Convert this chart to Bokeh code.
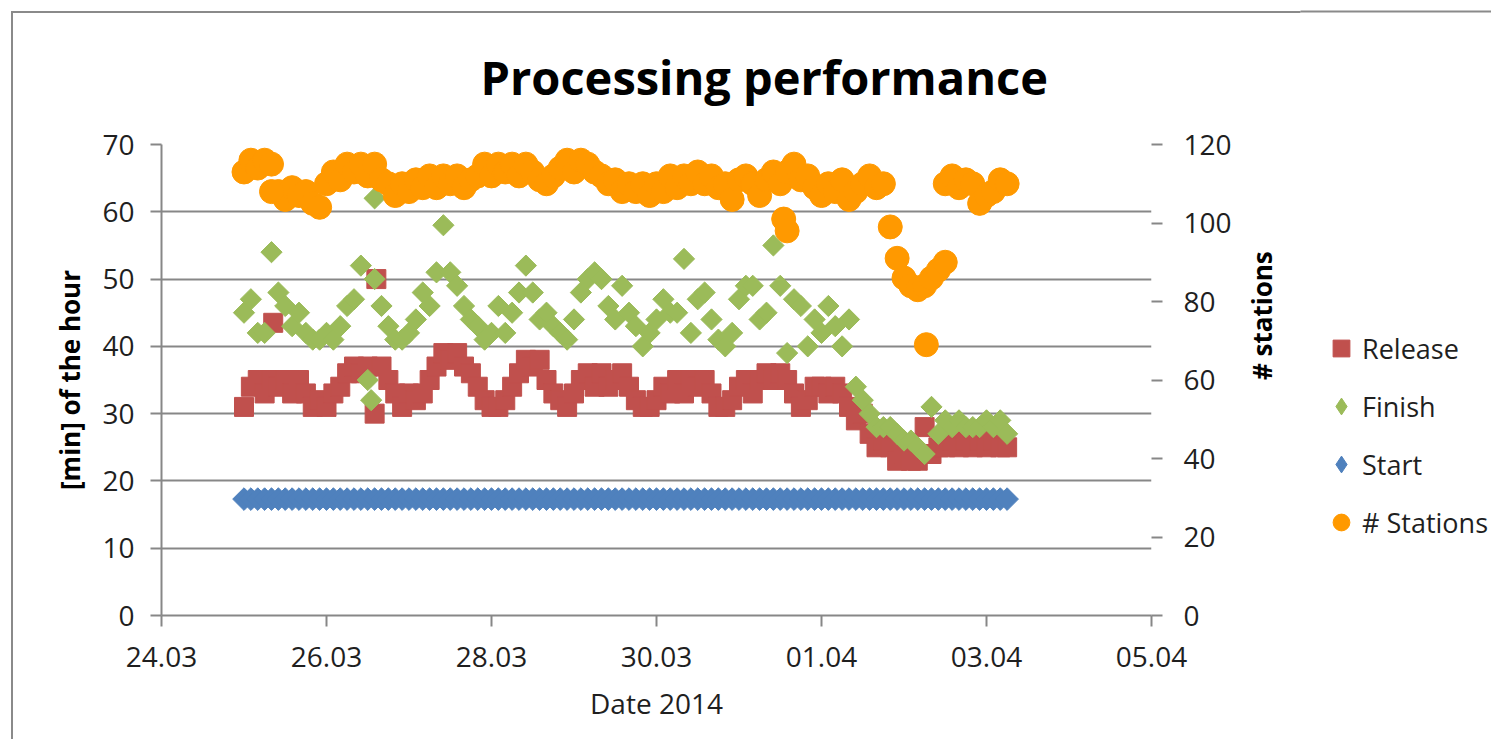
import pandas as pd
import numpy as np
from bokeh.plotting import figure
from bokeh.layouts import row
from bokeh.models import (Range1d, LinearAxis, FixedTicker, DatetimeTickFormatter,
                          Legend, LegendItem, ColumnDataSource)
from bokeh.embed import file_html
from bokeh.resources import INLINE

# ---------------- data ----------------
first_time = "2014-03-25 00:00"   # readings every 2 hours
step = "2h"

release = [31, 34, 35, 33, 35, 34, 35, 33, 35, 33, 31, 32, 31, 33, 34, 36, 37, 36, 37, 30,
           37, 35, 33, 31, 33, 32, 33, 35, 37, 39, 38, 39, 37, 36, 34, 32, 31, 31, 32, 34,
           36, 38, 37, 38, 35, 33, 32, 31, 33, 35, 36, 34, 36, 34, 35, 36, 34, 32, 31, 31,
           32, 34, 33, 35, 33, 35, 34, 35, 33, 31, 31, 32, 34, 35, 33, 35, 36, 35, 36, 35,
           33, 31, 32, 34, 34, 33, 34, 33, 31, 29, 30, 27, 25, 26, 25, 23, 24, 23, 23, 28,
           24, 25, 25, 26, 25, 26, 25, 26, 25, 26, 25, 25]

finish = [45, 47, 42, 42, 54, 48, 46, 43, 45, 42, 41, 41, 42, 41, 43, 46, 47, 52, 35, 50,
          46, 43, 41, 41, 42, 44, 48, 46, 51, 58, 51, 49, 46, 44, 43, 41, 42, 46, 42, 45,
          48, 52, 48, 44, 45, 43, 42, 41, 44, 48, 50, 51, 50, 46, 44, 49, 45, 43, 40, 42,
          44, 47, 45, 45, 53, 42, 47, 48, 44, 41, 40, 42, 47, 49, 49, 44, 45, 55, 49, 39,
          47, 46, 40, 44, 42, 46, 43, 40, 44, 34, 32, 30, 28, 28, 28, 27, 26, 26, 25, 24,
          31, 27, 29, 28, 29, 28, 28, 28, 29, 28, 29, 27]

start = [17.3, 17.3, 17.3, 17.3, 17.3, 17.3, 17.3, 17.3, 17.3, 17.3, 17.3, 17.3, 17.3, 17.3,
         17.3, 17.3, 17.3, 17.3, 17.3, 17.3, 17.3, 17.3, 17.3, 17.3, 17.3, 17.3, 17.3, 17.3,
         17.3, 17.3, 17.3, 17.3, 17.3, 17.3, 17.3, 17.3, 17.3, 17.3, 17.3, 17.3, 17.3, 17.3,
         17.3, 17.3, 17.3, 17.3, 17.3, 17.3, 17.3, 17.3, 17.3, 17.3, 17.3, 17.3, 17.3, 17.3,
         17.3, 17.3, 17.3, 17.3, 17.3, 17.3, 17.3, 17.3, 17.3, 17.3, 17.3, 17.3, 17.3, 17.3,
         17.3, 17.3, 17.3, 17.3, 17.3, 17.3, 17.3, 17.3, 17.3, 17.3, 17.3, 17.3, 17.3, 17.3,
         17.3, 17.3, 17.3, 17.3, 17.3, 17.3, 17.3, 17.3, 17.3, 17.3, 17.3, 17.3, 17.3, 17.3,
         17.3, 17.3, 17.3, 17.3, 17.3, 17.3, 17.3, 17.3, 17.3, 17.3, 17.3, 17.3, 17.3, 17.3]

stations = [113, 116, 114, 116, 115, 108, 106, 109, 107, 108, 105, 104, 110, 113, 111, 115,
            113, 115, 112, 115, 111, 110, 107, 110, 108, 111, 109, 112, 109, 112, 110, 112,
            109, 111, 112, 115, 112, 115, 113, 115, 112, 115, 113, 111, 110, 112, 114, 116,
            113, 116, 115, 113, 112, 110, 111, 108, 110, 108, 110, 107, 110, 108, 112, 109,
            112, 110, 113, 110, 112, 109, 110, 106, 111, 112, 110, 107, 111, 113, 110, 113,
            115, 111, 112, 109, 107, 110, 108, 111, 106, 108, 110, 112, 109, 110, 99, 91,
            86, 84, 83, 84, 86, 88, 110, 112, 109, 111, 110, 105, 107, 108, 111, 110]

# additional readings sharing (almost) the same timestamps
release_extra_t = ["2014-03-25 08:30", "2014-03-26 14:30"]
release_extra_v = [43.5, 50]
finish_extra_t = ["2014-03-26 13:00", "2014-03-26 14:00"]
finish_extra_v = [32, 62]
stations_extra_t = ["2014-03-25 08:00", "2014-03-31 13:00", "2014-03-31 14:00",
                    "2014-04-02 06:30", "2014-04-02 12:00"]
stations_extra_v = [108, 101, 98, 69, 90]

x_ticks = ["2014-03-24", "2014-03-26", "2014-03-28", "2014-03-30",
           "2014-04-01", "2014-04-03", "2014-04-05"]
left_ticks = [0, 10, 20, 30, 40, 50, 60, 70]
right_ticks = [0, 20, 40, 60, 80, 100, 120]

# ---------------- figure ----------------
times = pd.date_range(first_time, periods=len(release), freq=step)

def combine(t, v, et, ev):
    return ColumnDataSource(dict(x=list(t) + list(pd.to_datetime(et)), y=list(v) + list(ev)))

src_rel = combine(times, release, release_extra_t, release_extra_v)
src_fin = combine(times, finish, finish_extra_t, finish_extra_v)
src_sta = ColumnDataSource(dict(x=list(times), y=start))
src_st = combine(times, stations, stations_extra_t, stations_extra_v)

FONT = "Open Sans"
GRID = "#878787"
BORDER = "#8a8a8a"
TXT = "#1f1f1f"
RED, GREEN, BLUE, ORANGE = "#C0504D", "#9BBB59", "#4F81BD", "#FF9900"

W1, W2, H = 1300, 191, 739
p = figure(width=W1, height=H, output_backend="svg", toolbar_location=None,
           x_axis_type="datetime",
           x_range=Range1d(pd.Timestamp("2014-03-24"), pd.Timestamp("2014-04-05")),
           y_range=Range1d(left_ticks[0], left_ticks[-1]),
           min_border_left=161, min_border_right=W1 - 1151, min_border_top=144,
           min_border_bottom=H - 615)
p.extra_y_ranges = {"st": Range1d(right_ticks[0], right_ticks[-1])}
p.outline_line_color = None
p.background_fill_color = "white"
p.border_fill_alpha = 0

# title
p.title.text = "Processing performance"
p.title.align = "left"
p.title.offset = 319
p.title.standoff = 72
p.title.text_font = FONT
p.title.text_font_size = "47px"
p.title.text_font_style = "bold"
p.title.text_color = "black"

p.xgrid.grid_line_color = None
p.ygrid.grid_line_color = GRID
p.ygrid.grid_line_width = 2

# left axis
ya = p.yaxis[0]
ya.ticker = FixedTicker(ticks=left_ticks)
ya.axis_line_color = GRID
ya.axis_line_width = 2
ya.major_tick_line_color = GRID
ya.major_tick_line_width = 2
ya.major_tick_out = 11
ya.major_tick_in = 0
ya.minor_tick_line_color = None
ya.major_label_standoff = 16
ya.major_label_text_font = FONT
ya.major_label_text_font_size = "28px"
ya.major_label_text_color = TXT
ya.axis_label = "[min] of the hour"
ya.axis_label_standoff = 11
ya.axis_label_text_font = FONT
ya.axis_label_text_font_size = "26px"
ya.axis_label_text_font_style = "bold"
ya.axis_label_text_color = "black"

# x axis
xa = p.xaxis[0]
xa.ticker = FixedTicker(ticks=[pd.Timestamp(d).value // 10**6 for d in x_ticks])
xa.formatter = DatetimeTickFormatter(days="%d.%m", months="%d.%m", hours="%d.%m",
                                     years="%d.%m")
xa.axis_line_color = GRID
xa.axis_line_width = 2
xa.major_tick_line_color = GRID
xa.major_tick_line_width = 2
xa.major_tick_out = 11
xa.major_tick_in = 0
xa.minor_tick_line_color = None
xa.major_label_standoff = 20
xa.major_label_text_font = FONT
xa.major_label_text_font_size = "28px"
xa.major_label_text_color = TXT
xa.axis_label = "Date 2014"
xa.axis_label_standoff = 14
xa.axis_label_text_font = FONT
xa.axis_label_text_font_size = "28px"
xa.axis_label_text_font_style = "normal"
xa.axis_label_text_color = TXT

# right axis
ra = LinearAxis(y_range_name="st", ticker=FixedTicker(ticks=right_ticks))
ra.axis_line_color = None
ra.major_tick_line_color = GRID
ra.major_tick_line_width = 2
ra.major_tick_out = 11
ra.major_tick_in = 0
ra.minor_tick_line_color = None
ra.major_label_standoff = 21
ra.major_label_text_font = FONT
ra.major_label_text_font_size = "28px"
ra.major_label_text_color = TXT
ra.axis_label = "# stations"
ra.axis_label_standoff = 27
ra.axis_label_text_font = FONT
ra.axis_label_text_font_size = "26px"
ra.axis_label_text_font_style = "bold"
ra.axis_label_text_color = "black"
try:
    ra.axis_label_orientation = np.pi / 2
except Exception:
    pass
p.add_layout(ra, "right")

# data
p.scatter("x", "y", source=src_rel, marker="square", size=19, fill_color=RED, line_color=RED)
p.scatter("x", "y", source=src_fin, marker="square", angle=np.pi / 4, size=15,
          fill_color=GREEN, line_color=GREEN)
p.scatter("x", "y", source=src_sta, marker="square", angle=np.pi / 4, size=16,
          fill_color=BLUE, line_color=BLUE)
p.scatter("x", "y", source=src_st, marker="circle", size=24, fill_color=ORANGE,
          line_color=ORANGE, y_range_name="st")

# ---------------- legend panel ----------------
q = figure(width=W2, height=H, output_backend="svg", toolbar_location=None,
           x_range=Range1d(0, 1), y_range=Range1d(1000, 1001),
           x_axis_location=None, y_axis_location=None,
           min_border_left=0, min_border_right=0, min_border_bottom=0, min_border_top=11)
q.outline_line_color = None
q.grid.grid_line_color = None
q.background_fill_color = "white"
q.border_fill_color = "white"

legend_y = 69          # frame aligned with the main plot (bottom at 615)
try:
    q.frame_align = False
    legend_y = H - 547  # own frame spans to the bottom of the panel
    # the top edge of the chart border continues over the legend panel
    qa = LinearAxis(ticker=FixedTicker(ticks=[]), axis_line_color=BORDER, axis_line_width=2,
                    major_tick_line_color=None, minor_tick_line_color=None,
                    major_tick_out=0, major_tick_in=0, minor_tick_out=0, minor_tick_in=0,
                    major_label_standoff=0)
    q.add_layout(qa, "above")
except Exception:
    pass

# same series drawn with legend-style markers (outside the visible range of this panel)
l_rel = q.scatter("x", "y", source=src_rel, marker="square", fill_color=RED, line_color=RED)
l_fin = q.scatter("x", "y", source=src_fin, marker="diamond", fill_color=GREEN, line_color=GREEN)
l_sta = q.scatter("x", "y", source=src_sta, marker="diamond", fill_color=BLUE, line_color=BLUE)
l_st = q.scatter("x", "y", source=src_st, marker="circle", fill_color=ORANGE, line_color=ORANGE)

legend = Legend(items=[LegendItem(label="Release", renderers=[l_rel]),
                       LegendItem(label="Finish", renderers=[l_fin]),
                       LegendItem(label="Start", renderers=[l_sta]),
                       LegendItem(label="# Stations", renderers=[l_st])],
                location=(20, legend_y), orientation="vertical",
                glyph_width=42, glyph_height=50, spacing=8, label_standoff=0,
                padding=0, margin=0, border_line_color=None, background_fill_alpha=0,
                label_text_font=FONT, label_text_font_size="27px", label_text_color=TXT)
q.add_layout(legend, "center")

layout = row(p, q)
# chart-area border of the original (top and left edges visible)
layout.styles = {
    "background-image": "linear-gradient(#8a8a8a, #8a8a8a), linear-gradient(#8a8a8a, #8a8a8a)",
    "background-repeat": "no-repeat, no-repeat",
    "background-position": "11px 11px, 11px 11px",
    "background-size": "2px 3000px, 3000px 2px",
    "background-color": "white",
}

open("out.html", "w").write(file_html(layout, INLINE))
